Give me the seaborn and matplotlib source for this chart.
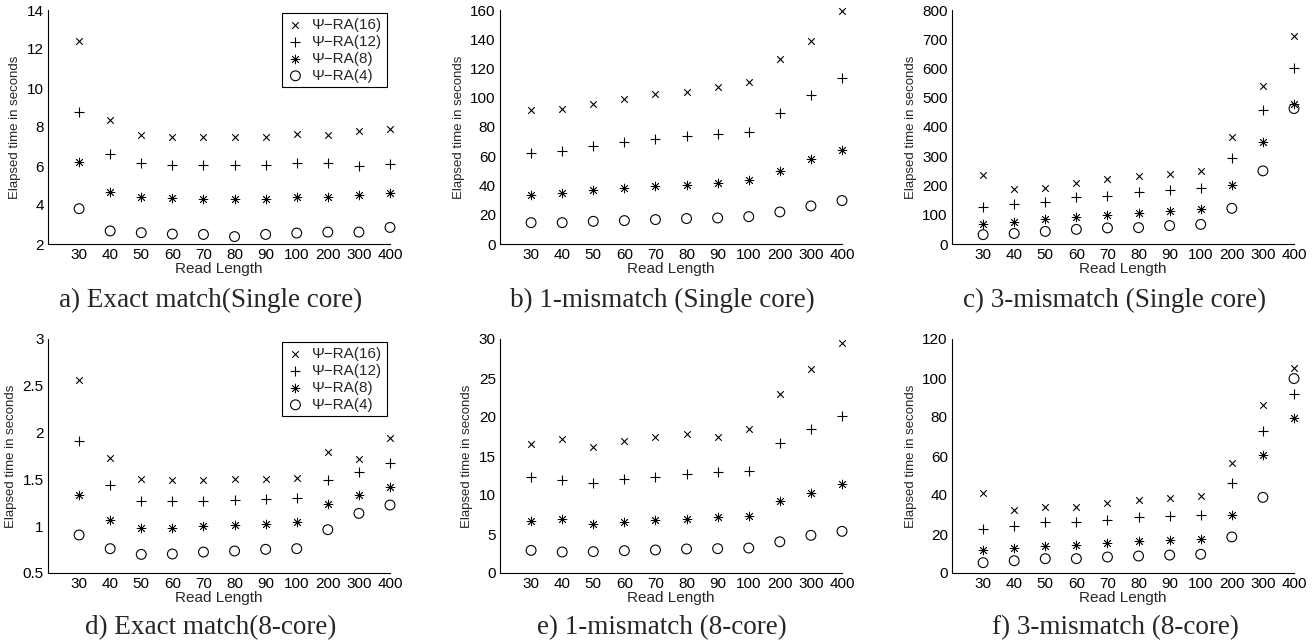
import matplotlib
matplotlib.use("Agg")
import matplotlib.pyplot as plt
import seaborn as sns
import pandas as pd
from matplotlib.ticker import FuncFormatter

read_lengths = ["30", "40", "50", "60", "70", "80", "90", "100", "200", "300", "400"]
series_names = ["Ψ−RA(16)", "Ψ−RA(12)", "Ψ−RA(8)", "Ψ−RA(4)"]

# a) Exact match (Single core)
a_16 = [12.4, 8.37, 7.6, 7.5, 7.5, 7.5, 7.48, 7.66, 7.58, 7.77, 7.88]
a_12 = [8.76, 6.61, 6.13, 6.06, 6.05, 6.05, 6.05, 6.15, 6.13, 6.01, 6.11]
a_8 = [6.21, 4.66, 4.41, 4.34, 4.30, 4.32, 4.30, 4.41, 4.41, 4.51, 4.64]
a_4 = [3.81, 2.67, 2.58, 2.51, 2.49, 2.38, 2.49, 2.56, 2.61, 2.61, 2.85]

# b) 1-mismatch (Single core)
b_16 = [91.3, 92.5, 95.7, 99.3, 102.5, 103.9, 107.3, 111.0, 126.3, 138.8, 159.6]
b_12 = [62.3, 63.9, 66.9, 69.6, 71.9, 73.7, 75.3, 76.7, 89.3, 102.0, 113.7]
b_8 = [33.8, 34.7, 36.8, 38.1, 39.5, 40.6, 41.8, 43.6, 50.0, 57.8, 64.2]
b_4 = [14.6, 14.6, 15.5, 16.0, 16.7, 17.4, 17.8, 18.7, 21.9, 26.0, 29.7]

# c) 3-mismatch (Single core)
c_16 = [236, 188, 190, 209, 222, 234, 238, 250, 366, 540, 711]
c_12 = [127, 136, 144, 160, 163, 177, 185, 193, 295, 458, 603]
c_8 = [67, 76, 86, 93, 100, 107, 114, 121, 201, 350, 480]
c_4 = [32, 36, 43, 50, 55, 56, 63, 67, 122, 250, 463]

# d) Exact match (8-core)
d_16 = [2.566, 1.729, 1.508, 1.497, 1.49, 1.504, 1.504, 1.519, 1.79, 1.718, 1.939]
d_12 = [1.914, 1.444, 1.266, 1.266, 1.269, 1.28, 1.294, 1.30, 1.497, 1.579, 1.675]
d_8 = [1.337, 1.063, 0.981, 0.981, 0.999, 1.016, 1.027, 1.045, 1.241, 1.33, 1.422]
d_4 = [0.906, 0.76, 0.699, 0.703, 0.724, 0.735, 0.753, 0.76, 0.963, 1.137, 1.226]

# e) 1-mismatch (8-core)
e_16 = [16.5, 17.2, 16.2, 16.9, 17.4, 17.8, 17.4, 18.5, 22.9, 26.2, 29.5]
e_12 = [12.35, 11.9, 11.5, 12.0, 12.3, 12.7, 12.9, 13.1, 16.7, 18.4, 20.1]
e_8 = [6.67, 6.92, 6.28, 6.58, 6.8, 6.97, 7.18, 7.3, 9.23, 10.26, 11.45]
e_4 = [2.9, 2.69, 2.74, 2.86, 2.95, 3.08, 3.12, 3.2, 4.0, 4.83, 5.34]

# f) 3-mismatch (8-core)
f_16 = [41.0, 32.3, 33.8, 33.7, 35.7, 37.3, 38.5, 39.3, 56.2, 86.3, 105.0]
f_12 = [22.6, 24.3, 26.3, 26.2, 27.4, 28.7, 29.2, 29.9, 46.3, 72.8, 91.9]
f_8 = [11.8, 12.8, 13.8, 14.5, 15.4, 16.6, 17.1, 17.6, 29.6, 60.4, 79.5]
f_4 = [5.3, 6.3, 7.35, 7.35, 8.2, 8.7, 9.2, 9.6, 18.5, 38.8, 99.7]

captions = ["a) Exact match(Single core)", "b) 1-mismatch (Single core)", "c) 3-mismatch (Single core)",
            "d) Exact match(8-core)", "e) 1-mismatch (8-core)", "f) 3-mismatch (8-core)"]
panel_data = [(a_16, a_12, a_8, a_4), (b_16, b_12, b_8, b_4), (c_16, c_12, c_8, c_4),
              (d_16, d_12, d_8, d_4), (e_16, e_12, e_8, e_4), (f_16, f_12, f_8, f_4)]
y_limits = [(2, 14), (0, 160), (0, 800), (0.5, 3), (0, 30), (0, 120)]
y_steps = [2, 20, 100, 0.5, 5, 20]
legend_panels = [0, 3]

sns.set_style("white")
plt.rcParams["font.family"] = ["Liberation Sans", "DejaVu Sans"]

fig = plt.figure(figsize=(13.15, 6.43), dpi=100)
W, H = 1315, 643
lefts = [48, 500, 952]
tops = [10, 339]
aw, ah = 342, 234
cap_x = [211, 662, 1115]
cap_y = [300, 628]

marker_styles = [
    dict(marker="x", s=22, color="black", linewidth=0.8),
    dict(marker="+", s=55, color="black", linewidth=0.8),
    dict(marker=(8, 2, 0), s=40, color="black", linewidth=0.6),
    dict(marker="o", s=50, facecolors="none", edgecolors="black", linewidth=0.8),
]

for idx in range(6):
    r, c = divmod(idx, 3)
    ax = fig.add_axes([lefts[c] / W, 1 - (tops[r] + ah) / H, aw / W, ah / H])
    rows = []
    for name, vals in zip(series_names, panel_data[idx]):
        for i, v in enumerate(vals):
            rows.append({"pos": i + 1, "time": v, "series": name})
    df = pd.DataFrame(rows)
    for name, style in zip(series_names, marker_styles):
        sub = df[df["series"] == name]
        sns.scatterplot(data=sub, x="pos", y="time", ax=ax, label=name, clip_on=False, **style)
    ax.set_xlim(0, len(read_lengths))
    ax.set_ylim(*y_limits[idx])
    ax.set_xticks(range(1, len(read_lengths) + 1))
    ax.set_xticklabels(read_lengths)
    lo, hi = y_limits[idx]
    step = y_steps[idx]
    n = int(round((hi - lo) / step))
    ax.set_yticks([lo + k * step for k in range(n + 1)])
    ax.yaxis.set_major_formatter(FuncFormatter(lambda v, p: f"{v:g}"))
    ax.tick_params(direction="in", length=3, width=0.8, labelsize=11, colors="black", pad=3)
    ax.set_xlabel("Read Length", fontsize=11, labelpad=0)
    ax.set_ylabel("Elapsed time in seconds", fontsize=9.5, labelpad=4)
    for s in ["top", "right"]:
        ax.spines[s].set_visible(False)
    for s in ["left", "bottom"]:
        ax.spines[s].set_color("black")
        ax.spines[s].set_linewidth(0.8)
    if idx in legend_panels:
        leg = ax.legend(loc="upper right", fontsize=11, frameon=True, fancybox=False,
                        edgecolor="black", framealpha=1, borderaxespad=0.2,
                        handletextpad=0.5, labelspacing=0.2, borderpad=0.3,
                        handlelength=1.2)
        leg.get_frame().set_linewidth(0.8)
    else:
        if ax.get_legend() is not None:
            ax.get_legend().remove()
    fig.text(cap_x[c] / W, 1 - cap_y[r] / H, captions[idx], ha="center", va="center",
             fontsize=19.5, family="Liberation Serif")

fig.savefig("out.png", dpi=100)
